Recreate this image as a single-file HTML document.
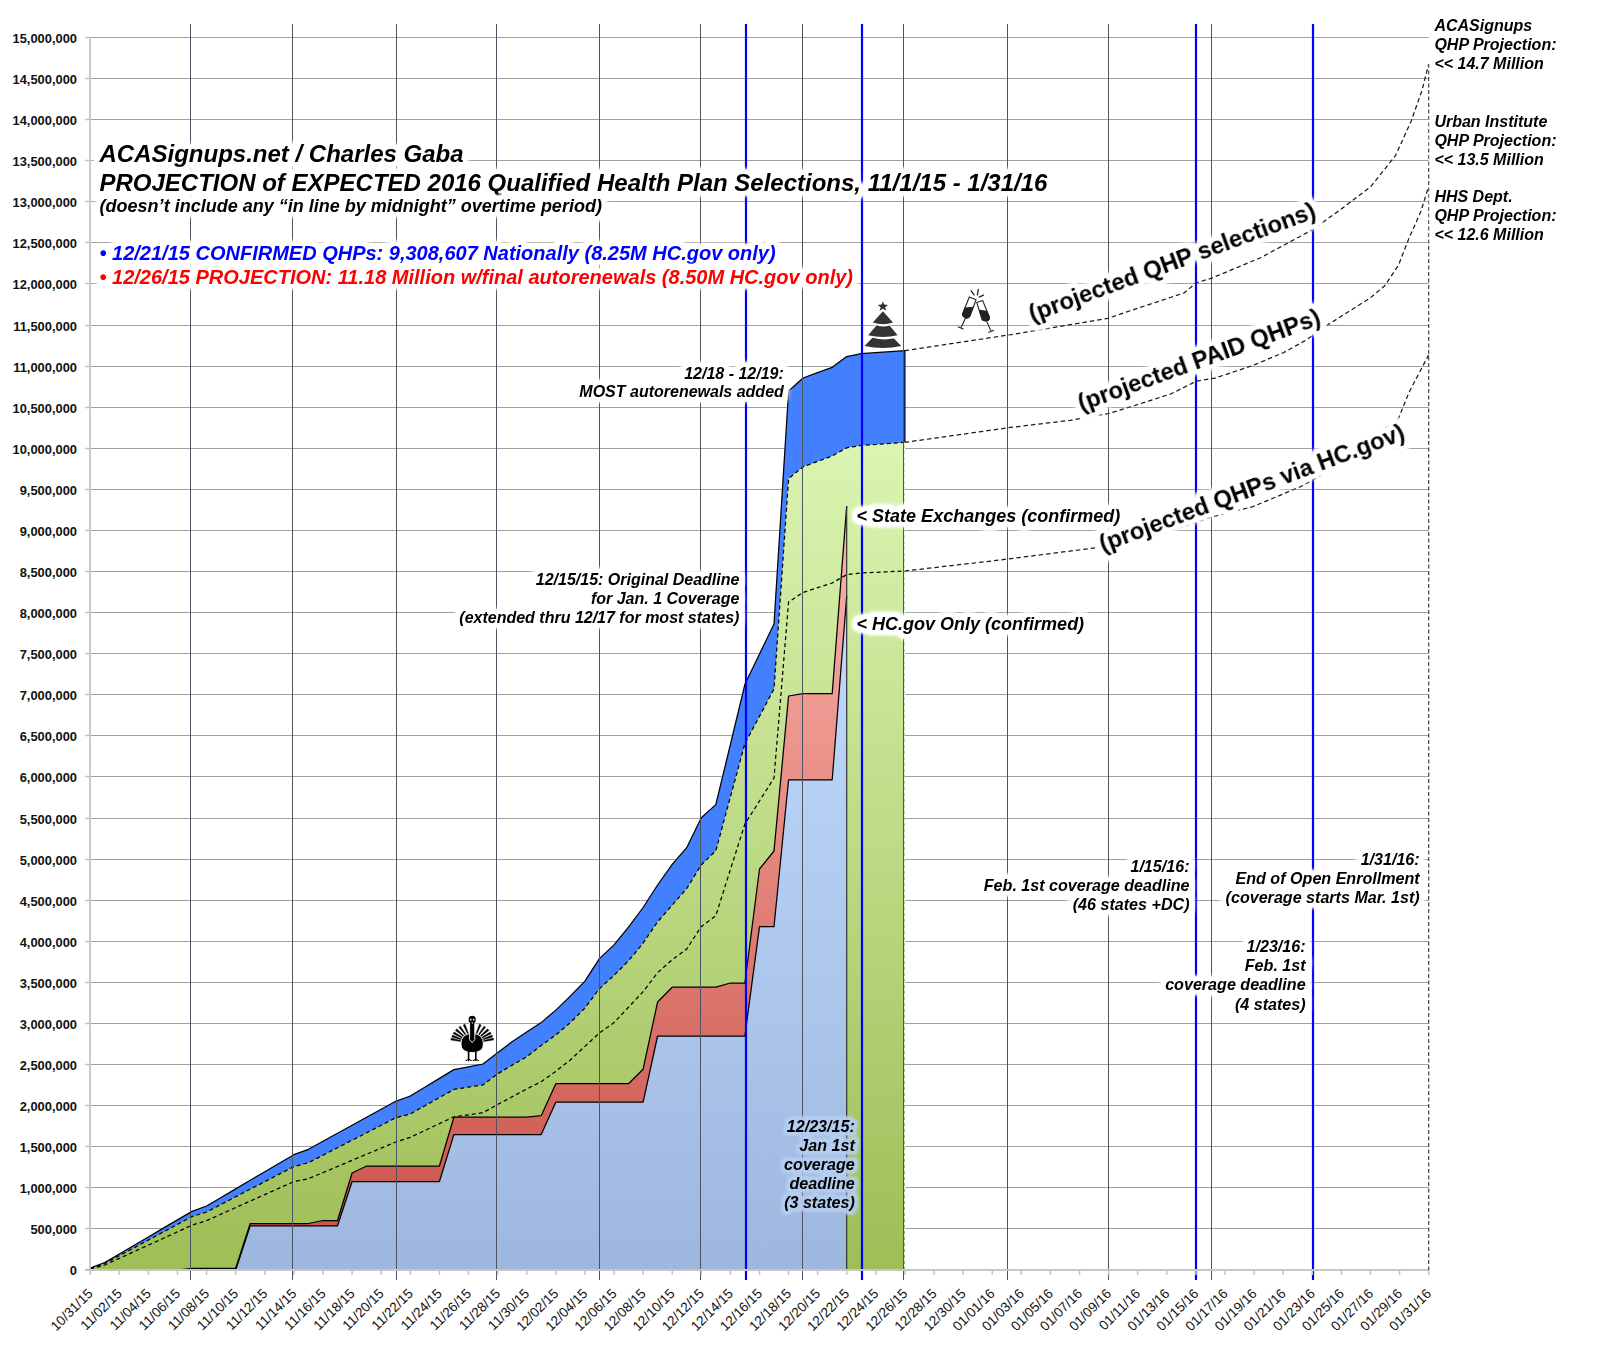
<!DOCTYPE html>
<html><head><meta charset="utf-8"><title>ACASignups projection</title>
<style>html,body{margin:0;padding:0;background:#fff;width:1600px;height:1350px;overflow:hidden}svg{display:block}</style>
</head><body>
<svg width="1600" height="1350" viewBox="0 0 1600 1350">
<defs>
<linearGradient id="gG" gradientUnits="userSpaceOnUse" x1="0" y1="442" x2="0" y2="1269"><stop offset="0" stop-color="#dbf5b2"/><stop offset="1" stop-color="#9ebe56"/></linearGradient>
<linearGradient id="gR" gradientUnits="userSpaceOnUse" x1="0" y1="506" x2="0" y2="1269"><stop offset="0" stop-color="#fcb4ab"/><stop offset="1" stop-color="#c85048"/></linearGradient>
<linearGradient id="gL" gradientUnits="userSpaceOnUse" x1="0" y1="596" x2="0" y2="1269"><stop offset="0" stop-color="#c1dbfe"/><stop offset="1" stop-color="#9db7df"/></linearGradient>
<filter id="glow" x="-10%" y="-40%" width="120%" height="180%" color-interpolation-filters="sRGB">
<feMorphology in="SourceAlpha" operator="dilate" radius="3.5" result="d"/>
<feGaussianBlur in="d" stdDeviation="2" result="b"/>
<feComponentTransfer in="b" result="b2"><feFuncA type="linear" slope="2"/></feComponentTransfer>
<feFlood flood-color="#fff"/>
<feComposite in2="b2" operator="in" result="w"/>
<feMerge><feMergeNode in="w"/><feMergeNode in="SourceGraphic"/></feMerge>
</filter>
<filter id="glow2" x="-20%" y="-30%" width="140%" height="160%" color-interpolation-filters="sRGB">
<feMorphology in="SourceAlpha" operator="dilate" radius="2.5" result="d"/>
<feGaussianBlur in="d" stdDeviation="1.5" result="b0"/>
<feComponentTransfer in="b0" result="b"><feFuncA type="linear" slope="1.6"/></feComponentTransfer>
<feFlood flood-color="#b6cef0" flood-opacity="0.9"/>
<feComposite in2="b" operator="in" result="w"/>
<feMerge><feMergeNode in="w"/><feMergeNode in="SourceGraphic"/></feMerge>
</filter>
</defs>
<rect width="1600" height="1350" fill="#fff"/>
<path d="M85,37.5H1429M85,78.5H1429M85,119.5H1429M85,160.5H1429M85,201.5H1429M85,242.5H1429M85,283.5H1429M85,325.5H1429M85,366.5H1429M85,407.5H1429M85,448.5H1429M85,489.5H1429M85,530.5H1429M85,571.5H1429M85,612.5H1429M85,653.5H1429M85,694.5H1429M85,735.5H1429M85,776.5H1429M85,818.5H1429M85,859.5H1429M85,900.5H1429M85,941.5H1429M85,982.5H1429M85,1023.5H1429M85,1064.5H1429M85,1105.5H1429M85,1146.5H1429M85,1187.5H1429M85,1228.5H1429" stroke="#a0a0a0" stroke-width="1.1" fill="none"/>
<polygon points="90.2,1268.0 104.7,1262.5 119.3,1254.0 133.8,1245.5 148.4,1237.0 162.9,1228.4 177.5,1219.9 192.0,1211.4 206.6,1206.0 221.1,1197.5 235.7,1188.9 250.2,1180.3 264.8,1171.8 279.3,1163.2 293.9,1154.7 308.4,1149.3 323.0,1141.3 337.5,1133.3 352.1,1125.3 366.6,1117.3 381.2,1109.3 395.7,1101.3 410.3,1096.0 424.8,1087.2 439.4,1078.4 453.9,1069.6 468.5,1066.8 483.0,1064.0 497.6,1052.7 512.1,1041.8 526.7,1032.0 541.2,1022.6 555.8,1010.1 570.3,996.1 584.9,981.1 599.4,958.6 614.0,944.9 628.5,927.1 643.1,907.5 657.6,885.0 672.2,864.3 686.7,847.7 701.3,817.7 715.8,804.6 730.4,744.5 744.9,684.3 759.5,654.1 774.0,624.0 788.6,391.0 803.1,378.0 817.6,372.6 832.2,367.3 846.7,356.6 861.3,353.7 875.8,352.7 890.4,351.7 904.9,350.7 904.9,1269.5 90.2,1269.5" fill="#4280fe"/>
<polygon points="90.2,1268.5 104.7,1263.5 119.3,1255.7 133.8,1247.9 148.4,1240.0 162.9,1232.2 177.5,1224.4 192.0,1216.6 206.6,1212.0 221.1,1204.4 235.7,1196.8 250.2,1189.2 264.8,1181.7 279.3,1174.1 293.9,1166.5 308.4,1162.7 323.0,1155.2 337.5,1147.7 352.1,1140.2 366.6,1132.8 381.2,1125.3 395.7,1117.8 410.3,1114.0 424.8,1105.8 439.4,1097.6 453.9,1089.4 468.5,1087.1 483.0,1084.8 497.6,1073.9 512.1,1065.1 526.7,1056.8 541.2,1045.4 555.8,1035.0 570.3,1022.6 584.9,1008.1 599.4,988.7 614.0,975.4 628.5,960.9 643.1,943.1 657.6,921.8 672.2,905.2 686.7,888.6 701.3,864.9 715.8,850.7 730.4,797.1 744.9,743.5 759.5,716.2 774.0,689.0 788.6,478.6 803.1,466.8 817.6,461.4 832.2,456.0 846.7,447.8 861.3,445.5 875.8,444.5 890.4,443.4 904.9,442.4 904.9,1269.5 90.2,1269.5" fill="url(#gG)"/>
<polygon points="90.2,1270.0 104.7,1270.0 119.3,1270.0 133.8,1270.0 148.4,1270.0 162.9,1270.0 177.5,1270.0 192.0,1268.3 206.6,1268.3 221.1,1268.3 235.7,1268.3 250.2,1223.5 264.8,1223.5 279.3,1223.5 293.9,1223.5 308.4,1223.5 323.0,1220.5 337.5,1220.5 352.1,1173.0 366.6,1166.0 381.2,1166.0 395.7,1166.0 410.3,1166.0 424.8,1166.0 439.4,1166.0 453.9,1117.2 468.5,1117.2 483.0,1117.2 497.6,1117.2 512.1,1117.2 526.7,1117.2 541.2,1115.7 555.8,1083.7 570.3,1083.7 584.9,1083.7 599.4,1083.7 614.0,1083.7 628.5,1083.7 643.1,1069.2 657.6,1002.0 672.2,987.2 686.7,987.2 701.3,987.2 715.8,987.2 730.4,983.0 744.9,983.0 759.5,869.0 774.0,851.0 788.6,696.0 803.1,693.6 817.6,693.6 832.2,693.6 846.7,506.0 846.7,1269.5 90.2,1269.5" fill="url(#gR)"/>
<polygon points="90.2,1270.0 104.7,1270.0 119.3,1270.0 133.8,1270.0 148.4,1270.0 162.9,1270.0 177.5,1270.0 192.0,1270.0 206.6,1270.0 221.1,1270.0 235.7,1270.0 250.2,1225.8 264.8,1225.8 279.3,1225.8 293.9,1225.8 308.4,1225.8 323.0,1225.8 337.5,1225.8 352.1,1181.5 366.6,1181.5 381.2,1181.5 395.7,1181.5 410.3,1181.5 424.8,1181.5 439.4,1181.5 453.9,1134.6 468.5,1134.6 483.0,1134.6 497.6,1134.6 512.1,1134.6 526.7,1134.6 541.2,1134.6 555.8,1102.2 570.3,1102.2 584.9,1102.2 599.4,1102.2 614.0,1102.2 628.5,1102.2 643.1,1102.2 657.6,1036.0 672.2,1036.0 686.7,1036.0 701.3,1036.0 715.8,1036.0 730.4,1036.0 744.9,1036.0 759.5,926.7 774.0,926.7 788.6,779.8 803.1,779.8 817.6,779.8 832.2,779.8 846.7,596.0 846.7,1269.5 90.2,1269.5" fill="url(#gL)"/>
<polyline points="90.2,1270.0 104.7,1270.0 119.3,1270.0 133.8,1270.0 148.4,1270.0 162.9,1270.0 177.5,1270.0 192.0,1270.0 206.6,1270.0 221.1,1270.0 235.7,1270.0 250.2,1225.8 264.8,1225.8 279.3,1225.8 293.9,1225.8 308.4,1225.8 323.0,1225.8 337.5,1225.8 352.1,1181.5 366.6,1181.5 381.2,1181.5 395.7,1181.5 410.3,1181.5 424.8,1181.5 439.4,1181.5 453.9,1134.6 468.5,1134.6 483.0,1134.6 497.6,1134.6 512.1,1134.6 526.7,1134.6 541.2,1134.6 555.8,1102.2 570.3,1102.2 584.9,1102.2 599.4,1102.2 614.0,1102.2 628.5,1102.2 643.1,1102.2 657.6,1036.0 672.2,1036.0 686.7,1036.0 701.3,1036.0 715.8,1036.0 730.4,1036.0 744.9,1036.0 759.5,926.7 774.0,926.7 788.6,779.8 803.1,779.8 817.6,779.8 832.2,779.8 846.7,596.0" fill="none" stroke="#000" stroke-width="1.25" stroke-linejoin="round"/>
<polyline points="90.2,1270.0 104.7,1270.0 119.3,1270.0 133.8,1270.0 148.4,1270.0 162.9,1270.0 177.5,1270.0 192.0,1268.3 206.6,1268.3 221.1,1268.3 235.7,1268.3 250.2,1223.5 264.8,1223.5 279.3,1223.5 293.9,1223.5 308.4,1223.5 323.0,1220.5 337.5,1220.5 352.1,1173.0 366.6,1166.0 381.2,1166.0 395.7,1166.0 410.3,1166.0 424.8,1166.0 439.4,1166.0 453.9,1117.2 468.5,1117.2 483.0,1117.2 497.6,1117.2 512.1,1117.2 526.7,1117.2 541.2,1115.7 555.8,1083.7 570.3,1083.7 584.9,1083.7 599.4,1083.7 614.0,1083.7 628.5,1083.7 643.1,1069.2 657.6,1002.0 672.2,987.2 686.7,987.2 701.3,987.2 715.8,987.2 730.4,983.0 744.9,983.0 759.5,869.0 774.0,851.0 788.6,696.0 803.1,693.6 817.6,693.6 832.2,693.6 846.7,506.0" fill="none" stroke="#000" stroke-width="1.25" stroke-linejoin="round"/>
<path d="M846.7,506V1269" stroke="#333" stroke-width="1.2" fill="none"/>
<polyline points="90.2,1269.0 104.7,1265.0 119.3,1258.4 133.8,1251.7 148.4,1245.1 162.9,1238.5 177.5,1231.8 192.0,1225.2 206.6,1220.6 221.1,1214.1 235.7,1207.6 250.2,1201.1 264.8,1194.6 279.3,1188.1 293.9,1181.6 308.4,1178.7 323.0,1172.6 337.5,1166.5 352.1,1160.3 366.6,1154.2 381.2,1148.1 395.7,1142.0 410.3,1137.3 424.8,1130.5 439.4,1123.6 453.9,1116.8 468.5,1114.8 483.0,1112.7 497.6,1104.5 512.1,1096.8 526.7,1089.0 541.2,1081.7 555.8,1071.3 570.3,1059.9 584.9,1046.4 599.4,1033.0 614.0,1022.6 628.5,1007.2 643.1,991.7 657.6,972.7 672.2,959.7 686.7,949.0 701.3,926.5 715.8,915.8 730.4,869.6 744.9,824.0 759.5,801.0 774.0,778.0 788.6,602.0 803.1,592.4 817.6,587.7 832.2,583.0 846.7,574.6 861.3,573.0 875.8,572.3 890.4,571.7 904.9,571.0" fill="none" stroke="#000" stroke-width="1.25" stroke-dasharray="4,3"/>
<polyline points="90.2,1268.5 104.7,1263.5 119.3,1255.7 133.8,1247.9 148.4,1240.0 162.9,1232.2 177.5,1224.4 192.0,1216.6 206.6,1212.0 221.1,1204.4 235.7,1196.8 250.2,1189.2 264.8,1181.7 279.3,1174.1 293.9,1166.5 308.4,1162.7 323.0,1155.2 337.5,1147.7 352.1,1140.2 366.6,1132.8 381.2,1125.3 395.7,1117.8 410.3,1114.0 424.8,1105.8 439.4,1097.6 453.9,1089.4 468.5,1087.1 483.0,1084.8 497.6,1073.9 512.1,1065.1 526.7,1056.8 541.2,1045.4 555.8,1035.0 570.3,1022.6 584.9,1008.1 599.4,988.7 614.0,975.4 628.5,960.9 643.1,943.1 657.6,921.8 672.2,905.2 686.7,888.6 701.3,864.9 715.8,850.7 730.4,797.1 744.9,743.5 759.5,716.2 774.0,689.0 788.6,478.6 803.1,466.8 817.6,461.4 832.2,456.0 846.7,447.8 861.3,445.5 875.8,444.5 890.4,443.4 904.9,442.4" fill="none" stroke="#000" stroke-width="1.25" stroke-dasharray="4,3"/>
<polyline points="90.2,1268.0 104.7,1262.5 119.3,1254.0 133.8,1245.5 148.4,1237.0 162.9,1228.4 177.5,1219.9 192.0,1211.4 206.6,1206.0 221.1,1197.5 235.7,1188.9 250.2,1180.3 264.8,1171.8 279.3,1163.2 293.9,1154.7 308.4,1149.3 323.0,1141.3 337.5,1133.3 352.1,1125.3 366.6,1117.3 381.2,1109.3 395.7,1101.3 410.3,1096.0 424.8,1087.2 439.4,1078.4 453.9,1069.6 468.5,1066.8 483.0,1064.0 497.6,1052.7 512.1,1041.8 526.7,1032.0 541.2,1022.6 555.8,1010.1 570.3,996.1 584.9,981.1 599.4,958.6 614.0,944.9 628.5,927.1 643.1,907.5 657.6,885.0 672.2,864.3 686.7,847.7 701.3,817.7 715.8,804.6 730.4,744.5 744.9,684.3 759.5,654.1 774.0,624.0 788.6,391.0 803.1,378.0 817.6,372.6 832.2,367.3 846.7,356.6 861.3,353.7 875.8,352.7 890.4,351.7 904.9,350.7 904.9,442.4" fill="none" stroke="#000" stroke-width="1.25" stroke-linejoin="round"/>
<path d="M190.5,24V1280M292.5,24V1280M396.5,24V1280M496.5,24V1280M599.5,24V1280M700.5,24V1280M802.5,24V1280M903.5,24V1280M1007.5,24V1280M1108.5,24V1280M1211.5,24V1280" stroke="#4d5360" stroke-width="1" fill="none"/>
<path d="M904.6,442V1269" stroke="#fff" stroke-width="1.2" stroke-dasharray="3,3" fill="none" opacity="0.8"/>
<path d="M746.0,24V1280M862.0,24V1280M1196.0,24V1280M1313.0,24V1280" stroke="#0000ff" stroke-width="2.2" fill="none"/>
<path d="M90,37V1270.9M85,1270H1429" stroke="#c6c6c6" stroke-width="1.8" fill="none"/>
<path d="M85,37.5H90M85,78.5H90M85,119.5H90M85,160.5H90M85,201.5H90M85,242.5H90M85,283.5H90M85,325.5H90M85,366.5H90M85,407.5H90M85,448.5H90M85,489.5H90M85,530.5H90M85,571.5H90M85,612.5H90M85,653.5H90M85,694.5H90M85,735.5H90M85,776.5H90M85,818.5H90M85,859.5H90M85,900.5H90M85,941.5H90M85,982.5H90M85,1023.5H90M85,1064.5H90M85,1105.5H90M85,1146.5H90M85,1187.5H90M85,1228.5H90M85,1269.5H90M90.2,1270V1275M119.3,1270V1275M148.4,1270V1275M177.5,1270V1275M206.6,1270V1275M235.7,1270V1275M264.8,1270V1275M293.9,1270V1275M323.0,1270V1275M352.1,1270V1275M381.2,1270V1275M410.3,1270V1275M439.4,1270V1275M468.5,1270V1275M497.6,1270V1275M526.7,1270V1275M555.8,1270V1275M584.9,1270V1275M614.0,1270V1275M643.1,1270V1275M672.2,1270V1275M701.3,1270V1275M730.4,1270V1275M759.5,1270V1275M788.6,1270V1275M817.6,1270V1275M846.7,1270V1275M875.8,1270V1275M904.9,1270V1275M934.0,1270V1275M963.1,1270V1275M992.2,1270V1275M1021.3,1270V1275M1050.4,1270V1275M1079.5,1270V1275M1108.6,1270V1275M1137.7,1270V1275M1166.8,1270V1275M1195.9,1270V1275M1225.0,1270V1275M1254.1,1270V1275M1283.2,1270V1275M1312.3,1270V1275M1341.4,1270V1275M1370.5,1270V1275M1399.6,1270V1275M1428.7,1270V1275" stroke="#c4c4c4" stroke-width="1.5" fill="none"/>
<path d="M1428.7,64V1270" stroke="#444" stroke-width="1.2" stroke-dasharray="4,2.5" fill="none"/>
<g font-family="Liberation Sans" font-weight="bold" font-size="12.9" text-anchor="end" fill="#111"><text x="77" y="43.3">15,000,000</text><text x="77" y="84.3">14,500,000</text><text x="77" y="125.3">14,000,000</text><text x="77" y="166.3">13,500,000</text><text x="77" y="207.3">13,000,000</text><text x="77" y="248.3">12,500,000</text><text x="77" y="289.3">12,000,000</text><text x="77" y="331.3">11,500,000</text><text x="77" y="372.3">11,000,000</text><text x="77" y="413.3">10,500,000</text><text x="77" y="454.3">10,000,000</text><text x="77" y="495.3">9,500,000</text><text x="77" y="536.3">9,000,000</text><text x="77" y="577.3">8,500,000</text><text x="77" y="618.3">8,000,000</text><text x="77" y="659.3">7,500,000</text><text x="77" y="700.3">7,000,000</text><text x="77" y="741.3">6,500,000</text><text x="77" y="782.3">6,000,000</text><text x="77" y="824.3">5,500,000</text><text x="77" y="865.3">5,000,000</text><text x="77" y="906.3">4,500,000</text><text x="77" y="947.3">4,000,000</text><text x="77" y="988.3">3,500,000</text><text x="77" y="1029.3">3,000,000</text><text x="77" y="1070.3">2,500,000</text><text x="77" y="1111.3">2,000,000</text><text x="77" y="1152.3">1,500,000</text><text x="77" y="1193.3">1,000,000</text><text x="77" y="1234.3">500,000</text><text x="77" y="1275.3">0</text></g>
<g font-family="Liberation Sans" font-size="13.6" text-anchor="end" fill="#111"><text transform="translate(93.7,1294.3) rotate(-45)">10/31/15</text><text transform="translate(122.8,1294.3) rotate(-45)">11/02/15</text><text transform="translate(151.9,1294.3) rotate(-45)">11/04/15</text><text transform="translate(181.0,1294.3) rotate(-45)">11/06/15</text><text transform="translate(210.1,1294.3) rotate(-45)">11/08/15</text><text transform="translate(239.2,1294.3) rotate(-45)">11/10/15</text><text transform="translate(268.3,1294.3) rotate(-45)">11/12/15</text><text transform="translate(297.4,1294.3) rotate(-45)">11/14/15</text><text transform="translate(326.5,1294.3) rotate(-45)">11/16/15</text><text transform="translate(355.6,1294.3) rotate(-45)">11/18/15</text><text transform="translate(384.7,1294.3) rotate(-45)">11/20/15</text><text transform="translate(413.8,1294.3) rotate(-45)">11/22/15</text><text transform="translate(442.9,1294.3) rotate(-45)">11/24/15</text><text transform="translate(472.0,1294.3) rotate(-45)">11/26/15</text><text transform="translate(501.1,1294.3) rotate(-45)">11/28/15</text><text transform="translate(530.2,1294.3) rotate(-45)">11/30/15</text><text transform="translate(559.3,1294.3) rotate(-45)">12/02/15</text><text transform="translate(588.4,1294.3) rotate(-45)">12/04/15</text><text transform="translate(617.5,1294.3) rotate(-45)">12/06/15</text><text transform="translate(646.6,1294.3) rotate(-45)">12/08/15</text><text transform="translate(675.7,1294.3) rotate(-45)">12/10/15</text><text transform="translate(704.8,1294.3) rotate(-45)">12/12/15</text><text transform="translate(733.9,1294.3) rotate(-45)">12/14/15</text><text transform="translate(763.0,1294.3) rotate(-45)">12/16/15</text><text transform="translate(792.1,1294.3) rotate(-45)">12/18/15</text><text transform="translate(821.1,1294.3) rotate(-45)">12/20/15</text><text transform="translate(850.2,1294.3) rotate(-45)">12/22/15</text><text transform="translate(879.3,1294.3) rotate(-45)">12/24/15</text><text transform="translate(908.4,1294.3) rotate(-45)">12/26/15</text><text transform="translate(937.5,1294.3) rotate(-45)">12/28/15</text><text transform="translate(966.6,1294.3) rotate(-45)">12/30/15</text><text transform="translate(995.7,1294.3) rotate(-45)">01/01/16</text><text transform="translate(1024.8,1294.3) rotate(-45)">01/03/16</text><text transform="translate(1053.9,1294.3) rotate(-45)">01/05/16</text><text transform="translate(1083.0,1294.3) rotate(-45)">01/07/16</text><text transform="translate(1112.1,1294.3) rotate(-45)">01/09/16</text><text transform="translate(1141.2,1294.3) rotate(-45)">01/11/16</text><text transform="translate(1170.3,1294.3) rotate(-45)">01/13/16</text><text transform="translate(1199.4,1294.3) rotate(-45)">01/15/16</text><text transform="translate(1228.5,1294.3) rotate(-45)">01/17/16</text><text transform="translate(1257.6,1294.3) rotate(-45)">01/19/16</text><text transform="translate(1286.7,1294.3) rotate(-45)">01/21/16</text><text transform="translate(1315.8,1294.3) rotate(-45)">01/23/16</text><text transform="translate(1344.9,1294.3) rotate(-45)">01/25/16</text><text transform="translate(1374.0,1294.3) rotate(-45)">01/27/16</text><text transform="translate(1403.1,1294.3) rotate(-45)">01/29/16</text><text transform="translate(1432.2,1294.3) rotate(-45)">01/31/16</text></g>
<polyline points="904.6,350.7 1007.2,335.2 1039.5,330.0 1108.0,318.3 1140.0,307.5 1184.0,293.0 1196.0,283.0 1212.0,278.0 1260.0,258.0 1312.0,230.0 1340.0,210.0 1370.4,187.0 1384.0,170.0 1395.5,155.6 1411.0,121.5 1422.0,90.4 1428.6,64.3" fill="none" stroke="#1a1a1a" stroke-width="1.25" stroke-dasharray="4.5,3" stroke-linejoin="round"/>
<polyline points="904.6,442.4 1008.0,427.8 1070.0,420.3 1109.0,413.5 1140.0,403.8 1171.2,393.8 1192.5,383.1 1196.2,381.2 1215.0,378.1 1252.5,365.6 1283.8,352.5 1306.2,340.0 1326.0,326.0 1370.4,297.8 1385.0,285.5 1398.5,265.2 1408.9,238.5 1420.7,211.9 1428.6,186.5" fill="none" stroke="#1a1a1a" stroke-width="1.25" stroke-dasharray="4.5,3" stroke-linejoin="round"/>
<polyline points="904.6,571.0 1000.0,560.0 1095.6,547.8 1165.0,532.8 1211.9,516.9 1253.0,506.6 1300.0,486.9 1317.8,477.4 1398.5,418.5 1408.9,392.6 1428.6,355.0" fill="none" stroke="#1a1a1a" stroke-width="1.25" stroke-dasharray="4.5,3" stroke-linejoin="round"/>
<text font-family="Liberation Sans" font-weight="bold" font-style="italic" font-size="24" text-anchor="start"  fill="#000" filter="url(#glow)"><tspan x="99.5" y="162.0">ACASignups.net / Charles Gaba</tspan></text>
<text font-family="Liberation Sans" font-weight="bold" font-style="italic" font-size="24" text-anchor="start"  fill="#000" filter="url(#glow)"><tspan x="99.5" y="190.5">PROJECTION of EXPECTED 2016 Qualified Health Plan Selections, 11/1/15 - 1/31/16</tspan></text>
<text font-family="Liberation Sans" font-weight="bold" font-style="italic" font-size="18" text-anchor="start"  fill="#000" filter="url(#glow)"><tspan x="99.5" y="212.0">(doesn’t include any “in line by midnight” overtime period)</tspan></text>
<text font-family="Liberation Sans" font-weight="bold" font-style="italic" font-size="20" text-anchor="start"  fill="#0000ff" filter="url(#glow)"><tspan x="99.5" y="260.0">• 12/21/15 CONFIRMED QHPs: 9,308,607 Nationally (8.25M HC.gov only)</tspan></text>
<text font-family="Liberation Sans" font-weight="bold" font-style="italic" font-size="20" text-anchor="start"  fill="#ff0000" filter="url(#glow)"><tspan x="99.5" y="284.0">• 12/26/15 PROJECTION: 11.18 Million w/final autorenewals (8.50M HC.gov only)</tspan></text>
<text font-family="Liberation Sans" font-weight="bold" font-style="italic" font-size="16" text-anchor="start"  fill="#000" filter="url(#glow)"><tspan x="1434.4" y="31.0">ACASignups</tspan><tspan x="1434.4" y="50.0">QHP Projection:</tspan><tspan x="1434.4" y="69.0">&lt;&lt; 14.7 Million</tspan></text>
<text font-family="Liberation Sans" font-weight="bold" font-style="italic" font-size="16" text-anchor="start"  fill="#000" filter="url(#glow)"><tspan x="1434.4" y="127.0">Urban Institute</tspan><tspan x="1434.4" y="146.0">QHP Projection:</tspan><tspan x="1434.4" y="165.0">&lt;&lt; 13.5 Million</tspan></text>
<text font-family="Liberation Sans" font-weight="bold" font-style="italic" font-size="16" text-anchor="start"  fill="#000" filter="url(#glow)"><tspan x="1434.4" y="202.0">HHS Dept.</tspan><tspan x="1434.4" y="221.0">QHP Projection:</tspan><tspan x="1434.4" y="240.0">&lt;&lt; 12.6 Million</tspan></text>
<text font-family="Liberation Sans" font-weight="bold" font-style="italic" font-size="16" text-anchor="end"  fill="#000" filter="url(#glow)"><tspan x="783.8" y="378.6">12/18 - 12/19:</tspan><tspan x="783.8" y="397.3">MOST autorenewals added</tspan></text>
<text font-family="Liberation Sans" font-weight="bold" font-style="italic" font-size="16" text-anchor="end"  fill="#000" filter="url(#glow)"><tspan x="739.4" y="585.3">12/15/15: Original Deadline</tspan><tspan x="739.4" y="604.1">for Jan. 1 Coverage</tspan><tspan x="739.4" y="622.9">(extended thru 12/17 for most states)</tspan></text>
<text font-family="Liberation Sans" font-weight="bold" font-style="italic" font-size="18" text-anchor="start"  fill="#000" filter="url(#glow)"><tspan x="856.6" y="521.8">&lt; State Exchanges (confirmed)</tspan></text>
<text font-family="Liberation Sans" font-weight="bold" font-style="italic" font-size="18" text-anchor="start"  fill="#000" filter="url(#glow)"><tspan x="856.6" y="629.8">&lt; HC.gov Only (confirmed)</tspan></text>
<text font-family="Liberation Sans" font-weight="bold" font-style="italic" font-size="16.1" text-anchor="end"  fill="#000" filter="url(#glow)"><tspan x="1189.5" y="871.6">1/15/16:</tspan><tspan x="1189.5" y="890.6">Feb. 1st coverage deadline</tspan><tspan x="1189.5" y="909.6">(46 states +DC)</tspan></text>
<text font-family="Liberation Sans" font-weight="bold" font-style="italic" font-size="16.1" text-anchor="end"  fill="#000" filter="url(#glow)"><tspan x="1419.7" y="865.3">1/31/16:</tspan><tspan x="1419.7" y="884.3">End of Open Enrollment</tspan><tspan x="1419.7" y="903.3">(coverage starts Mar. 1st)</tspan></text>
<text font-family="Liberation Sans" font-weight="bold" font-style="italic" font-size="16.1" text-anchor="end"  fill="#000" filter="url(#glow)"><tspan x="1305.6" y="951.6">1/23/16:</tspan><tspan x="1305.6" y="970.9">Feb. 1st</tspan><tspan x="1305.6" y="990.2">coverage deadline</tspan><tspan x="1305.6" y="1009.5">(4 states)</tspan></text>
<text font-family="Liberation Sans" font-weight="bold" font-style="italic" font-size="16.1" text-anchor="end"  fill="#000" filter="url(#glow2)"><tspan x="854.8" y="1131.6">12/23/15:</tspan><tspan x="854.8" y="1150.8">Jan 1st</tspan><tspan x="854.8" y="1169.9">coverage</tspan><tspan x="854.8" y="1189.0">deadline</tspan><tspan x="854.8" y="1208.2">(3 states)</tspan></text>
<text font-family="Liberation Sans" font-weight="bold" font-size="23.8" transform="translate(1032.4,322.2) rotate(-20.2)" fill="#000" filter="url(#glow)">(projected QHP selections)</text>
<text font-family="Liberation Sans" font-weight="bold" font-size="23.8" transform="translate(1081.4,411.5) rotate(-20)" fill="#000" filter="url(#glow)">(projected PAID QHPs)</text>
<text font-family="Liberation Sans" font-weight="bold" font-size="23.8" transform="translate(1102.9,552.4) rotate(-20.5)" fill="#000" filter="url(#glow)">(projected QHPs via HC.gov)</text>
<g>
<path d="M882.9,310 L902,346.5 Q882.9,350 864,346.5 Z" fill="#fff"/>
<g fill="#333">
<path d="M882.9,301.4 L884.2,304.6 L888.1,304.9 L885.1,307.3 L886.3,310.8 L882.9,308.7 L879.5,310.8 L880.7,307.3 L877.7,304.9 L881.6,304.6 Z"/>
<path d="M882.9,311.2 L893,322.6 Q882.9,326 872.8,322.6 Z"/>
<path d="M876.6,325.3 Q882.9,327.6 889.6,325.6 L897.6,335.2 Q882.9,338.8 868.2,335.2 Z"/>
<path d="M872.4,337.8 Q882.9,340.6 894,338.6 L901.2,345.9 Q882.9,350.2 864.6,345.9 Z"/>
</g></g>
<g stroke="#222" stroke-width="1.1" stroke-linecap="round" stroke-linejoin="round">
<path d="M969.3,297 L976.1,299.8 L970,315.7 Q968.4,318.6 966.2,317.9 Q962.3,316.8 962.6,313.9 Z" fill="#fff"/>
<path d="M965,308 L972.9,307.2 L970,315.7 Q968.4,318.6 966.2,317.9 Q962.3,316.8 962.6,313.9 Z" fill="#222"/>
<path d="M965.6,318 L961.1,327.6 M958.3,327 L963.2,329" fill="none"/>
<path d="M976.7,302.4 L982.6,300.4 L989.4,317.2 Q989.8,320.8 985.8,320.7 Q982.6,320.6 981.9,318.7 Z" fill="#fff"/>
<path d="M979.3,310.4 L986.8,311.3 L989.4,317.2 Q989.8,320.8 985.8,320.7 Q982.6,320.6 981.9,318.7 Z" fill="#222"/>
<path d="M986.4,320.8 L990.9,330.9 M988.7,332.2 L993.5,330.4" fill="none"/>
<path d="M971.2,290.9 L974.1,294.9 M978.3,289.5 L977.4,294.8 M979.2,297.1 L983.5,295.1" fill="none" stroke-width="1.3"/>
</g>
<g>
<path d="M482.09,1041.84 L493.62,1040.04 L493.22,1038.08 L481.91,1040.96 Z M462.49,1040.96 L451.18,1038.08 L450.78,1040.04 L462.31,1041.84 Z M481.73,1040.35 L492.60,1036.92 L491.90,1035.04 L481.42,1039.51 Z M462.98,1039.51 L452.50,1035.04 L451.80,1036.92 L462.67,1040.35 Z M481.10,1038.82 L491.20,1033.67 L490.21,1031.93 L480.65,1038.04 Z M463.75,1038.04 L454.19,1031.93 L453.20,1033.67 L463.30,1038.82 Z M480.09,1037.24 L488.94,1030.38 L487.64,1028.86 L479.50,1036.55 Z M464.90,1036.55 L456.76,1028.86 L455.46,1030.38 L464.31,1037.24 Z M478.60,1035.70 L485.61,1027.34 L484.02,1026.13 L477.88,1035.16 Z M466.52,1035.16 L460.38,1026.13 L458.79,1027.34 L465.80,1035.70 Z M476.55,1034.39 L481.20,1024.93 L479.37,1024.14 L475.73,1034.03 Z M468.67,1034.03 L465.03,1024.14 L463.20,1024.93 L467.85,1034.39 Z" fill="#000" stroke="#000" stroke-width="0.4" stroke-linejoin="round"/>
<path d="M461,1044 Q461,1033.5 472.2,1033.5 Q483.4,1033.5 483.4,1044 Q483.4,1052.6 472.2,1052.6 Q461,1052.6 461,1044 Z" fill="#000" stroke="#fff" stroke-width="0.9"/>
<path d="M469.6,1021.5 V1039.6 L472.2,1042.6 L474.8,1039.6 V1021.5 Z" fill="#000" stroke="#fff" stroke-width="0.9"/>
<ellipse cx="472.2" cy="1019.6" rx="3.6" ry="3.9" fill="#000"/>
<circle cx="470.8" cy="1019.7" r="0.85" fill="#fff"/><circle cx="473.7" cy="1019.7" r="0.85" fill="#fff"/>
<path d="M471.5,1022 L472.9,1022 L472.2,1024.3 Z" fill="#fff"/>
<path d="M468.6,1051.5 V1059.6 M475.8,1051.5 V1059.6" stroke="#000" stroke-width="1.6" fill="none"/>
<path d="M465.6,1060.8 L468.6,1059.3 L471.6,1060.8 M472.8,1060.8 L475.8,1059.3 L478.8,1060.8 M468.6,1059.3 V1061.2 M475.8,1059.3 V1061.2" stroke="#000" stroke-width="1.1" fill="none"/>
</g>
</svg>
</body></html>
